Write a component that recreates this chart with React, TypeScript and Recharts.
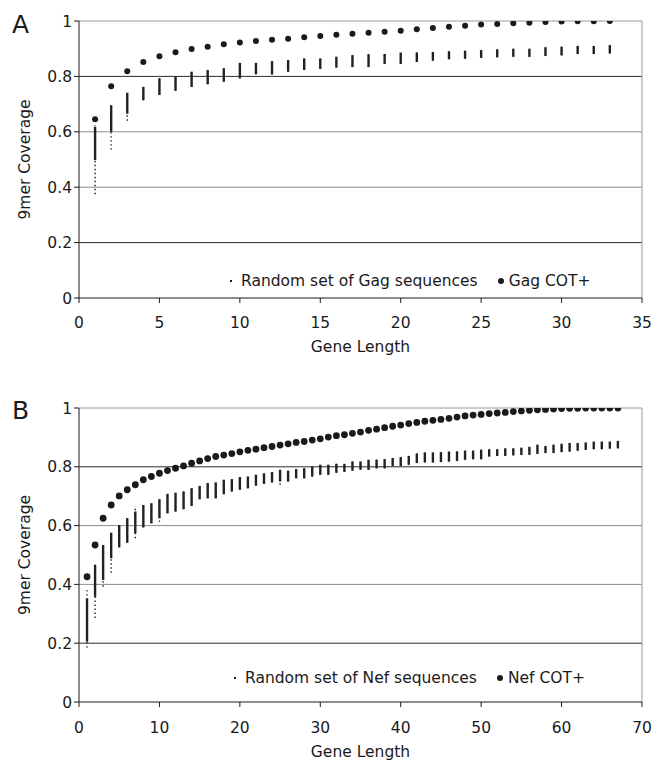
import { ScatterChart, Scatter, XAxis, YAxis, ErrorBar, ReferenceLine, Legend, Label } from "recharts";

const FONT = '"DejaVu Sans", Verdana, sans-serif';
const INK = "#1a1a1a";

// Panel A: Gag
const gagLengths = [1, 2, 3, 4, 5, 6, 7, 8, 9, 10, 11, 12, 13, 14, 15, 16, 17, 18, 19, 20, 21, 22, 23, 24, 25, 26, 27, 28, 29, 30, 31, 32, 33];
const gagCot = [0.645, 0.764, 0.819, 0.852, 0.873, 0.887, 0.899, 0.907, 0.916, 0.922, 0.928, 0.932, 0.936, 0.941, 0.946, 0.950, 0.954, 0.958, 0.961, 0.965, 0.970, 0.975, 0.979, 0.983, 0.987, 0.989, 0.992, 0.994, 0.996, 0.998, 0.999, 0.999, 1.0];
// dense part of the random-set streak
const gagHi = [0.618, 0.696, 0.741, 0.762, 0.793, 0.799, 0.817, 0.823, 0.829, 0.849, 0.849, 0.855, 0.859, 0.865, 0.865, 0.871, 0.877, 0.880, 0.881, 0.886, 0.886, 0.888, 0.891, 0.893, 0.895, 0.898, 0.900, 0.900, 0.905, 0.907, 0.910, 0.910, 0.913];
const gagLo = [0.498, 0.600, 0.665, 0.714, 0.733, 0.748, 0.762, 0.772, 0.781, 0.793, 0.808, 0.807, 0.817, 0.823, 0.827, 0.832, 0.834, 0.834, 0.845, 0.845, 0.852, 0.857, 0.862, 0.864, 0.867, 0.869, 0.871, 0.871, 0.874, 0.876, 0.881, 0.881, 0.883];
// sparse outliers (full extent)
const gagMax = [0.623, 0.696, 0.741, 0.762, 0.793, 0.799, 0.817, 0.823, 0.829, 0.849, 0.849, 0.855, 0.859, 0.865, 0.865, 0.871, 0.877, 0.880, 0.881, 0.886, 0.886, 0.888, 0.891, 0.893, 0.895, 0.898, 0.900, 0.900, 0.905, 0.907, 0.910, 0.910, 0.913];
const gagMin = [0.375, 0.536, 0.640, 0.714, 0.733, 0.748, 0.762, 0.772, 0.781, 0.793, 0.808, 0.807, 0.817, 0.823, 0.827, 0.832, 0.834, 0.834, 0.845, 0.845, 0.852, 0.857, 0.862, 0.864, 0.867, 0.869, 0.871, 0.871, 0.874, 0.876, 0.881, 0.881, 0.883];
const gagTicks = [0, 5, 10, 15, 20, 25, 30, 35];

// Panel B: Nef
const nefLengths = [1, 2, 3, 4, 5, 6, 7, 8, 9, 10, 11, 12, 13, 14, 15, 16, 17, 18, 19, 20, 21, 22, 23, 24, 25, 26, 27, 28, 29, 30, 31, 32, 33, 34, 35, 36, 37, 38, 39, 40, 41, 42, 43, 44, 45, 46, 47, 48, 49, 50, 51, 52, 53, 54, 55, 56, 57, 58, 59, 60, 61, 62, 63, 64, 65, 66, 67];
const nefCot = [0.426, 0.534, 0.625, 0.670, 0.701, 0.722, 0.739, 0.756, 0.767, 0.778, 0.787, 0.795, 0.803, 0.812, 0.820, 0.828, 0.835, 0.840, 0.845, 0.851, 0.856, 0.860, 0.865, 0.869, 0.874, 0.878, 0.883, 0.886, 0.891, 0.895, 0.901, 0.906, 0.909, 0.914, 0.918, 0.924, 0.928, 0.933, 0.938, 0.942, 0.947, 0.951, 0.955, 0.958, 0.961, 0.965, 0.969, 0.973, 0.976, 0.978, 0.981, 0.983, 0.985, 0.988, 0.990, 0.992, 0.994, 0.995, 0.997, 0.998, 0.999, 0.999, 1.0, 1.0, 1.0, 1.0, 1.0];
const nefHi = [0.352, 0.466, 0.534, 0.576, 0.602, 0.625, 0.648, 0.670, 0.676, 0.690, 0.708, 0.712, 0.716, 0.727, 0.735, 0.745, 0.747, 0.756, 0.758, 0.765, 0.767, 0.773, 0.778, 0.782, 0.790, 0.787, 0.792, 0.795, 0.801, 0.807, 0.807, 0.810, 0.810, 0.818, 0.818, 0.824, 0.824, 0.826, 0.830, 0.833, 0.837, 0.845, 0.849, 0.849, 0.850, 0.852, 0.852, 0.855, 0.855, 0.858, 0.860, 0.860, 0.863, 0.863, 0.865, 0.868, 0.875, 0.871, 0.875, 0.878, 0.881, 0.881, 0.883, 0.886, 0.886, 0.886, 0.888];
const nefLo = [0.205, 0.358, 0.415, 0.489, 0.526, 0.542, 0.574, 0.594, 0.608, 0.625, 0.642, 0.648, 0.656, 0.667, 0.690, 0.693, 0.693, 0.707, 0.716, 0.722, 0.727, 0.736, 0.742, 0.747, 0.750, 0.750, 0.761, 0.761, 0.767, 0.773, 0.773, 0.780, 0.783, 0.787, 0.790, 0.790, 0.795, 0.795, 0.803, 0.803, 0.807, 0.813, 0.815, 0.815, 0.816, 0.818, 0.820, 0.824, 0.826, 0.826, 0.835, 0.837, 0.837, 0.839, 0.840, 0.841, 0.844, 0.847, 0.847, 0.850, 0.852, 0.855, 0.858, 0.860, 0.860, 0.862, 0.863];
const nefMax = [0.381, 0.472, 0.540, 0.576, 0.602, 0.625, 0.665, 0.670, 0.676, 0.690, 0.708, 0.712, 0.716, 0.727, 0.735, 0.745, 0.747, 0.756, 0.758, 0.765, 0.767, 0.773, 0.778, 0.782, 0.790, 0.787, 0.792, 0.795, 0.801, 0.807, 0.807, 0.810, 0.810, 0.818, 0.818, 0.824, 0.824, 0.826, 0.830, 0.833, 0.837, 0.845, 0.849, 0.849, 0.850, 0.852, 0.852, 0.855, 0.855, 0.858, 0.860, 0.860, 0.863, 0.863, 0.865, 0.868, 0.875, 0.871, 0.875, 0.878, 0.881, 0.881, 0.883, 0.886, 0.886, 0.886, 0.888];
const nefMin = [0.185, 0.286, 0.392, 0.440, 0.526, 0.542, 0.557, 0.594, 0.608, 0.613, 0.642, 0.648, 0.656, 0.667, 0.690, 0.693, 0.693, 0.707, 0.716, 0.722, 0.727, 0.736, 0.742, 0.747, 0.739, 0.750, 0.761, 0.761, 0.767, 0.773, 0.773, 0.780, 0.783, 0.787, 0.790, 0.790, 0.795, 0.795, 0.803, 0.803, 0.807, 0.813, 0.815, 0.815, 0.816, 0.818, 0.820, 0.824, 0.826, 0.826, 0.835, 0.837, 0.837, 0.839, 0.840, 0.841, 0.844, 0.847, 0.847, 0.850, 0.852, 0.855, 0.858, 0.860, 0.860, 0.862, 0.863];
const nefTicks = [0, 10, 20, 30, 40, 50, 60, 70];

const yTicks = [0, 0.2, 0.4, 0.6, 0.8, 1];

interface PanelProps {
  lengths: number[];
  cot: number[];
  hi: number[];
  lo: number[];
  max: number[];
  min: number[];
  xTicks: number[];
  randomLabel: string;
  cotLabel: string;
  height: number;
  marginTop: number;
  marginBottom: number;
  axisHeight: number;
  tickGap: number;
  titleOffset: number;
  dotR: number;
  legendLeft: number;
  legendTop: number;
}

const gridColor = (v: number) => (v === 0.2 || v === 0.8 ? "#2b2b2b" : "#8c8c8c");

function Panel(p: PanelProps) {
  const dense = p.lengths.map((x, i) => ({ x, y: p.hi[i], err: [p.hi[i] - p.lo[i], 0] }));
  const spread = p.lengths.map((x, i) => ({ x, y: p.max[i], err: [p.max[i] - p.min[i], 0] }));
  const cot = p.lengths.map((x, i) => ({ x, y: p.cot[i] }));
  const xMax = p.xTicks[p.xTicks.length - 1];
  const tickStyle = { fill: INK, fontSize: 15.5, fontFamily: FONT };

  return (
    <ScatterChart
      width={653}
      height={p.height}
      margin={{ top: p.marginTop, right: 11, bottom: p.marginBottom, left: 19 }}
    >
      <XAxis
        type="number"
        dataKey="x"
        domain={[0, xMax]}
        ticks={p.xTicks}
        interval={0}
        height={p.axisHeight}
        tickSize={5}
        tickMargin={p.tickGap}
        tick={tickStyle}
        axisLine={{ stroke: INK }}
        tickLine={{ stroke: INK }}
      >
        <Label
          value="Gene Length"
          position="insideBottom"
          offset={p.titleOffset}
          style={{ fill: INK, fontSize: 15.5, fontFamily: FONT }}
        />
      </XAxis>
      <YAxis
        type="number"
        dataKey="y"
        domain={[0, 1]}
        ticks={yTicks}
        interval={0}
        allowDataOverflow
        width={60}
        tickSize={5}
        tick={tickStyle}
        tickFormatter={(v: number) => String(v)}
        axisLine={{ stroke: INK }}
        tickLine={{ stroke: INK }}
      >
        <Label
          value="9mer Coverage"
          angle={-90}
          position="insideLeft"
          offset={5}
          style={{ fill: INK, fontSize: 15.5, fontFamily: FONT, textAnchor: "middle" }}
        />
      </YAxis>
      {yTicks.slice(1).map((v) => (
        <ReferenceLine key={v} y={v} stroke={v === 1 ? "#9a9a9a" : gridColor(v)} strokeWidth={1} />
      ))}
      <ReferenceLine x={xMax} stroke="#9a9a9a" strokeWidth={1} />
      <Scatter data={spread} shape={() => <g />} isAnimationActive={false}>
        <ErrorBar
          dataKey="err"
          direction="y"
          width={0}
          stroke="#222"
          strokeWidth={1.4}
          strokeDasharray="1.4 2.6"
          isAnimationActive={false}
        />
      </Scatter>
      <Scatter data={dense} shape={() => <g />} isAnimationActive={false}>
        <ErrorBar dataKey="err" direction="y" width={0} stroke="#222" strokeWidth={2.4} isAnimationActive={false} />
      </Scatter>
      <Scatter
        data={cot}
        isAnimationActive={false}
        shape={(s: any) => <circle cx={s.cx} cy={s.cy} r={p.dotR} fill={INK} />}
      />
      <Legend
        layout="horizontal"
        verticalAlign="middle"
        align="center"
        wrapperStyle={{ left: p.legendLeft, top: p.legendTop, width: "auto", height: 22 }}
        content={() => (
          <div
            style={{
              display: "flex",
              alignItems: "center",
              height: 22,
              fontFamily: FONT,
              fontSize: 15.5,
              color: INK,
              whiteSpace: "nowrap",
            }}
          >
            <span style={{ width: 2, height: 2, background: INK, marginRight: 9 }} />
            <span>{p.randomLabel}</span>
            <span
              style={{ width: 6, height: 6, borderRadius: 3, background: INK, marginLeft: 20, marginRight: 5 }}
            />
            <span>{p.cotLabel}</span>
          </div>
        )}
      />
    </ScatterChart>
  );
}

const letterStyle = {
  position: "absolute" as const,
  left: 12,
  fontFamily: FONT,
  fontSize: 25,
  lineHeight: "25px",
  color: INK,
};

export default function App() {
  return (
    <div style={{ position: "absolute", left: 0, top: 0, width: 653, height: 761, background: "#fff" }}>
      <div style={{ position: "absolute", left: 0, top: 0 }}>
        <Panel
          lengths={gagLengths}
          cot={gagCot}
          hi={gagHi}
          lo={gagLo}
          max={gagMax}
          min={gagMin}
          xTicks={gagTicks}
          randomLabel="Random set of Gag sequences"
          cotLabel="Gag COT+"
          height={380}
          marginTop={21}
          marginBottom={22}
          axisHeight={60}
          tickGap={14}
          titleOffset={6.4}
          dotR={3}
          legendLeft={230}
          legendTop={270}
        />
      </div>
      <div style={{ position: "absolute", left: 0, top: 380 }}>
        <Panel
          lengths={nefLengths}
          cot={nefCot}
          hi={nefHi}
          lo={nefLo}
          max={nefMax}
          min={nefMin}
          xTicks={nefTicks}
          randomLabel="Random set of Nef sequences"
          cotLabel="Nef COT+"
          height={381}
          marginTop={28}
          marginBottom={0}
          axisHeight={59}
          tickGap={15}
          titleOffset={4}
          dotR={3.4}
          legendLeft={234}
          legendTop={287}
        />
      </div>
      <div style={{ ...letterStyle, top: 12 }}>A</div>
      <div style={{ ...letterStyle, top: 398 }}>B</div>
    </div>
  );
}
